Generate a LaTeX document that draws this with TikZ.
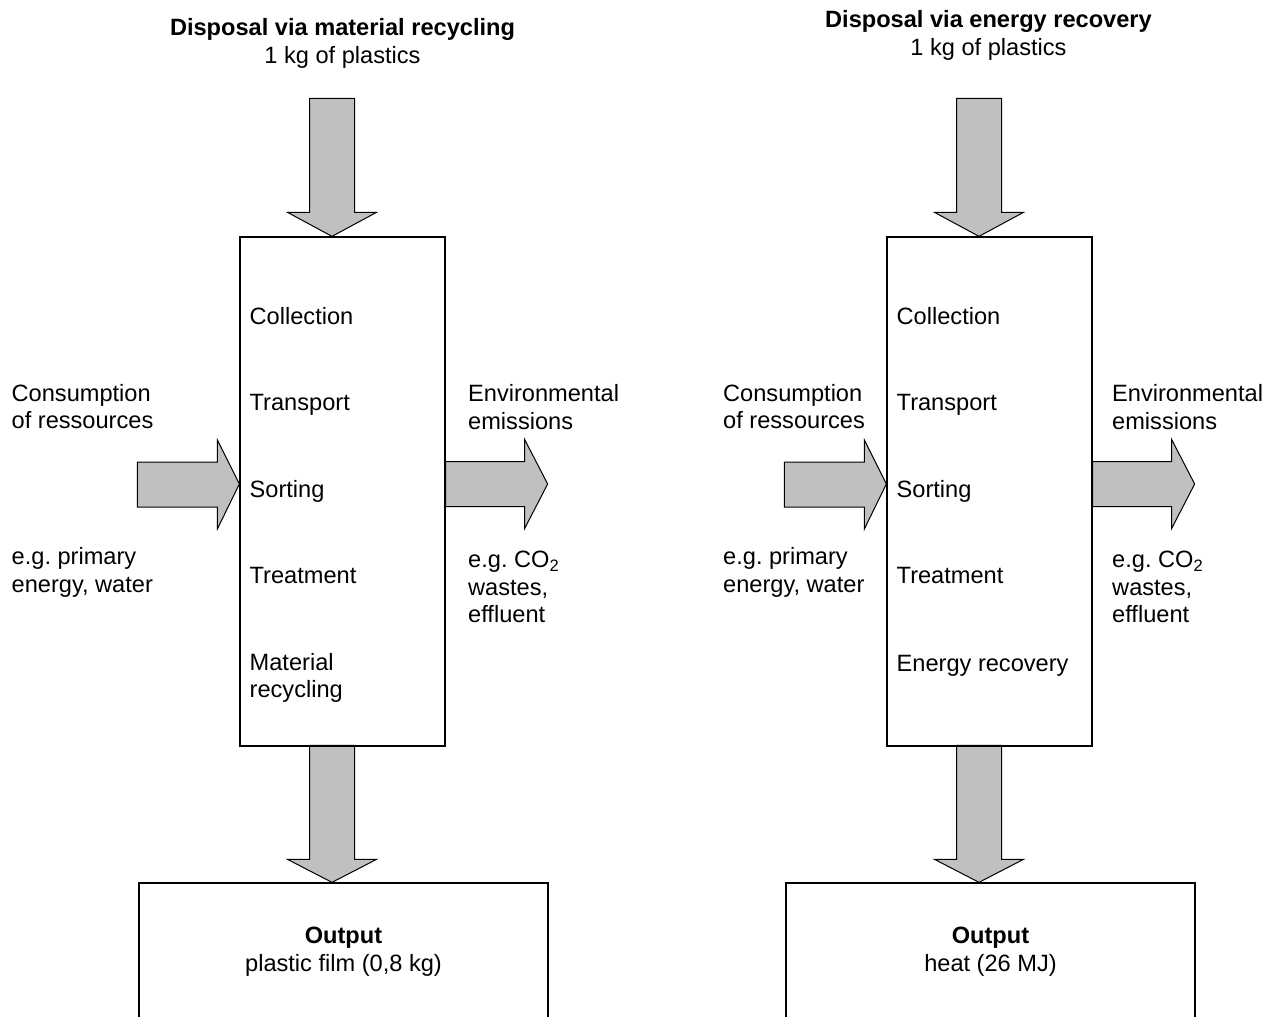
\documentclass[tikz,border=0pt]{standalone}
\usepackage{fontspec}
\setmainfont{Liberation Sans}
\usetikzlibrary{calc}
\definecolor{arrowgray}{HTML}{C0C0C0}
\frenchspacing
\begin{document}
\frenchspacing
\begin{tikzpicture}[x=1pt,y=-1pt,
  txt/.style={font=\fontsize{23.6}{27.5}\selectfont, inner sep=0pt, align=left, anchor=base west},
  ttl/.style={font=\fontsize{23.6}{28}\selectfont, inner sep=0pt, align=center, anchor=base},
  procbox/.style={draw, line width=1.3pt, fill=white, inner sep=0pt, minimum width=205pt, minimum height=509pt},
  outbox/.style={draw, line width=1.3pt, fill=white, inner sep=0pt, minimum width=409pt, minimum height=300pt},
  blk/.style={draw, line width=1pt, fill=arrowgray, line join=miter}]
\useasboundingbox (0,0) rectangle (1272,1017);
\clip (0,0) rectangle (1272,1017);

% ---------------- left panel ----------------
\coordinate (Lx) at (332,0);
\coordinate (Ly) at (0,484);
\node[procbox] (L) at (342.5,491.5) {};
\node[outbox] (Lout) at (343.5,1033) {};
\draw[blk] (L.north -| Lx) -- ++(-44.5,-24) -- ++(22,0) -- ++(0,-114) -- ++(45,0) -- ++(0,114) -- ++(22,0) -- cycle;
\draw[blk] (Lout.north -| Lx) -- ++(-44.5,-23) -- ++(22,0) -- ++(0,-114) -- ++(45,0) -- ++(0,114) -- ++(22,0) -- cycle;
\draw[blk] (L.west |- Ly) -- ++(-22,-44) -- ++(0,22) -- ++(-80,0) -- ++(0,45) -- ++(80,0) -- ++(0,22) -- cycle;
\draw[blk] (L.east |- Ly) ++(0,-22.5) -- ++(79,0) -- ++(0,-22) -- ++(23,44.5) -- ++(-23,44.5) -- ++(0,-22) -- ++(-79,0) -- cycle;
\draw[line width=1.3pt] (L.north west) rectangle (L.south east);
\draw[line width=1.3pt] (Lout.north west) rectangle (Lout.south east);

\node[ttl] (Ltitle) at (342.5,63) {\textbf{Disposal via material recycling}\\1 kg of plastics};
\node[txt] (Lcol) at (249.5,324) {Collection};
\node[txt] (Ltra) at (249.5,410.7) {Transport};
\node[txt] (Lsor) at (249.5,497.3) {Sorting};
\node[txt] (Ltre) at (249.5,583.5) {Treatment};
\node[txt] (Lmat) at (249.5,697.5) {Material\\recycling};
\node[txt] (Lcons) at (11.5,428.5) {Consumption\\of ressources};
\node[txt] (Leg) at (11.5,592) {e.g. primary\\energy, water};
\node[txt] (Lenv) at (468,429) {Environmental\\emissions};
\node[txt] (Lem) at (468,622.5) {e.g. CO\textsubscript{2}\\wastes,\\effluent};
\node[ttl] (Lres) at (343.5,971.3) {\textbf{Output}\\plastic film (0,8 kg)};

% ---------------- right panel ----------------
\begin{scope}[xshift=647pt]
\coordinate (Rx) at (332,0);
\coordinate (Ry) at (0,484);
\node[procbox] (R) at (342.5,491.5) {};
\node[outbox] (Rout) at (343.5,1033) {};
\draw[blk] (R.north -| Rx) -- ++(-44.5,-24) -- ++(22,0) -- ++(0,-114) -- ++(45,0) -- ++(0,114) -- ++(22,0) -- cycle;
\draw[blk] (Rout.north -| Rx) -- ++(-44.5,-23) -- ++(22,0) -- ++(0,-114) -- ++(45,0) -- ++(0,114) -- ++(22,0) -- cycle;
\draw[blk] (R.west |- Ry) -- ++(-22,-44) -- ++(0,22) -- ++(-80,0) -- ++(0,45) -- ++(80,0) -- ++(0,22) -- cycle;
\draw[blk] (R.east |- Ry) ++(0,-22.5) -- ++(79,0) -- ++(0,-22) -- ++(23,44.5) -- ++(-23,44.5) -- ++(0,-22) -- ++(-79,0) -- cycle;
\draw[line width=1.3pt] (R.north west) rectangle (R.south east);
\draw[line width=1.3pt] (Rout.north west) rectangle (Rout.south east);

\node[ttl] (Rtitle) at (341.5,55) {\textbf{Disposal via energy recovery}\\1 kg of plastics};
\node[txt] (Rcol) at (249.5,324) {Collection};
\node[txt] (Rtra) at (249.5,410.7) {Transport};
\node[txt] (Rsor) at (249.5,497.3) {Sorting};
\node[txt] (Rtre) at (249.5,583.5) {Treatment};
\node[txt] (Renr) at (249.5,671) {Energy recovery};
\node[txt] (Rcons) at (76,428.5) {Consumption\\of ressources};
\node[txt] (Reg) at (76,592) {e.g. primary\\energy, water};
\node[txt] (Renv) at (465,429) {Environmental\\emissions};
\node[txt] (Rem) at (465,622.5) {e.g. CO\textsubscript{2}\\wastes,\\effluent};
\node[ttl] (Rres) at (343.5,971.3) {\textbf{Output}\\heat (26 MJ)};
\end{scope}
\end{tikzpicture}
\end{document}
